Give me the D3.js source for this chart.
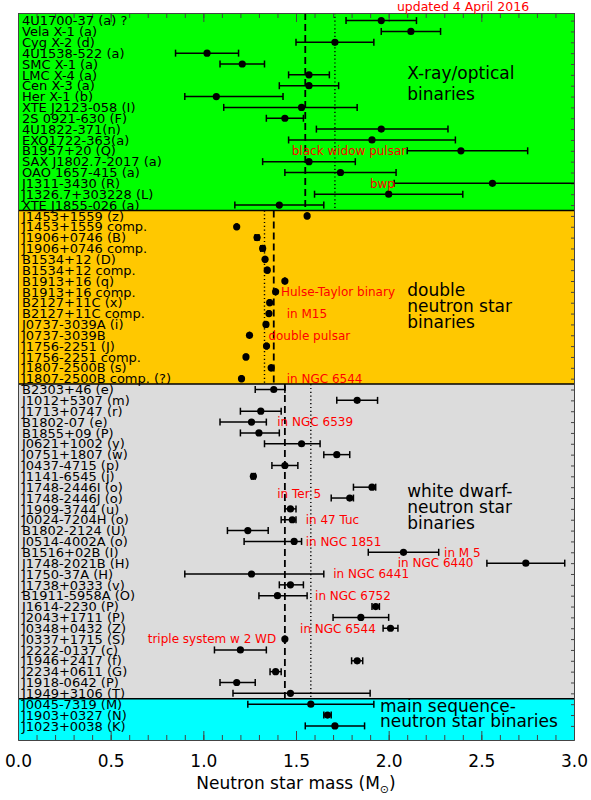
<!DOCTYPE html>
<html>
<head>
<meta charset="utf-8">
<script src="https://cdn.jsdelivr.net/npm/d3@7"></script>
<style>
  body { margin: 0; background: white; }
  text { font-family: "DejaVu Sans", sans-serif; }
</style>
</head>
<body>
<script>
// neutron star masses, one row per system, top to bottom
var names = [
  "4U1700-37 (a) ?", "Vela X-1 (a)", "Cyg X-2 (d)", "4U1538-522 (a)", "SMC X-1 (a)",
  "LMC X-4 (a)", "Cen X-3 (a)", "Her X-1 (b)", "XTE J2123-058 (I)", "2S 0921-630 (F)",
  "4U1822-371(n)", "EXO1722-363(a)", "B1957+20 (Q)", "SAX J1802.7-2017 (a)", "OAO 1657-415 (a)",
  "J1311-3430 (R)", "J1326.7+303228 (L)", "XTE J1855-026 (a)",
  "J1453+1559 (z)", "J1453+1559 comp.", "J1906+0746 (B)", "J1906+0746 comp.", "B1534+12 (D)",
  "B1534+12 comp.", "B1913+16 (q)", "B1913+16 comp.", "B2127+11C (x)", "B2127+11C comp.",
  "J0737-3039A (i)", "J0737-3039B", "J1756-2251 (J)", "J1756-2251 comp.", "J1807-2500B (s)",
  "J1807-2500B comp. (?)",
  "B2303+46 (e)", "J1012+5307 (m)", "J1713+0747 (r)", "B1802-07 (e)", "B1855+09 (P)",
  "J0621+1002 (y)", "J0751+1807 (w)", "J0437-4715 (p)", "J1141-6545 (j)", "J1748-2446I (o)",
  "J1748-2446J (o)", "J1909-3744 (u)", "J0024-7204H (o)", "B1802-2124 (U)", "J0514-4002A (o)",
  "B1516+02B (I)", "J1748-2021B (H)", "J1750-37A (H)", "J1738+0333 (v)", "B1911-5958A (O)",
  "J1614-2230 (P)", "J2043+1711 (P)", "J0348+0432 (Z)", "J0337+1715 (S)", "J2222-0137 (c)",
  "J1946+2417 (f)", "J2234+0611 (G)", "J1918-0642 (P)", "J1949+3106 (T)",
  "J0045-7319 (M)", "J1903+0327 (N)", "J1023+0038 (K)"
];
var mass = [
  1.96, 2.12, 1.71, 1.02, 1.21, 1.57, 1.57, 1.07, 1.53, 1.44,
  1.96, 1.91, 2.39, 1.57, 1.74, 2.56, 2.00, 1.41,
  1.56, 1.18, 1.29, 1.32, 1.333, 1.345, 1.44, 1.39, 1.358, 1.354,
  1.338, 1.249, 1.341, 1.230, 1.366, 1.206,
  1.38, 1.83, 1.31, 1.26, 1.30, 1.53, 1.72, 1.44, 1.27, 1.91,
  1.79, 1.47, 1.48, 1.24, 1.49, 2.08, 2.74, 1.26, 1.47, 1.40,
  1.93, 1.85, 2.01, 1.44, 1.20, 1.83, 1.39, 1.18, 1.47,
  1.58, 1.67, 1.71
];
var errMinus = [
  0.19, 0.16, 0.21, 0.17, 0.12, 0.11, 0.16, 0.17, 0.42, 0.10,
  0.35, 0.45, 0.29, 0.25, 0.30, 0.53, 0.40, 0.24,
  0.003, 0.003, 0.01, 0.01, 0.003, 0.003, 0.001, 0.001, 0.004, 0.004,
  0.001, 0.001, 0.004, 0.004, 0.003, 0.003,
  0.10, 0.11, 0.11, 0.17, 0.10, 0.20, 0.07, 0.07, 0.01, 0.10,
  0.10, 0.03, 0.06, 0.11, 0.27, 0.19, 0.21, 0.36, 0.06, 0.10,
  0.02, 0.15, 0.04, 0.002, 0.14, 0.03, 0.03, 0.09, 0.31,
  0.34, 0.02, 0.16
];
var errPlus = [
  0.19, 0.16, 0.21, 0.17, 0.12, 0.11, 0.16, 0.36, 0.30, 0.10,
  0.36, 0.45, 0.36, 0.25, 0.30, 0.55, 0.40, 0.24,
  0.003, 0.003, 0.01, 0.01, 0.003, 0.003, 0.001, 0.001, 0.004, 0.004,
  0.001, 0.001, 0.004, 0.004, 0.003, 0.003,
  0.06, 0.11, 0.11, 0.08, 0.11, 0.10, 0.07, 0.07, 0.01, 0.02,
  0.02, 0.03, 0.02, 0.11, 0.04, 0.19, 0.21, 0.39, 0.07, 0.16,
  0.02, 0.15, 0.04, 0.002, 0.14, 0.03, 0.03, 0.10, 0.43,
  0.34, 0.02, 0.16
];

// the four classes of binaries
var groupSizes = [18, 16, 29, 3];
var groupColors = ["#00ff00", "#ffc800", "#dcdcdc", "#00ffff"];
var groupDashed = [1.55, 1.38, 1.44, null];   // weighted mean
var groupDotted = [1.71, 1.33, 1.58, null];   // plain mean
var groupTitles = [
  ["X-ray/optical", "binaries"],
  ["double", "neutron star", "binaries"],
  ["white dwarf-", "neutron star", "binaries"],
  ["main sequence-", "neutron star binaries"]
];

// red notes: text, row, mass where text starts
var noteText = ["black widow pulsar", "bwp", "Hulse-Taylor binary", "in M15", "double pulsar",
  "in NGC 6544", "in NGC 6539", "in Ter 5", "in 47 Tuc", "in NGC 1851", "in M 5",
  "in NGC 6440", "in NGC 6441", "in NGC 6752", "in NGC 6544", "triple system w 2 WD"];
var noteRow = [12, 15, 25, 27, 29, 33, 37, 43.6, 46, 48, 49, 50, 51, 53, 56, 57];
var noteMass = [1.477, 1.899, 1.419, 1.45, 1.351, 1.45, 1.399, 1.399, 1.552, 1.552, 2.299,
  2.049, 1.701, 1.603, 1.522, 0.70];

var xTicks = [0, 0.5, 1.0, 1.5, 2.0, 2.5, 3.0];

var width = 591, height = 800;
var nRows = names.length;

var svg = d3.select("body").append("svg")
    .attr("width", width)
    .attr("height", height);

var x = d3.scaleLinear().domain([0, 3]).range([18, 574]);
var y = d3.scaleLinear().domain([-0.7, nRows + 0.3]).range([13, 740]);

// group row ranges
var groups = [];
var start = 0;
groupSizes.forEach(function(n, i) {
  groups.push({
    first: start, last: start + n - 1,
    top: i === 0 ? y.domain()[0] : start - 0.5,
    bottom: i === groupSizes.length - 1 ? y.domain()[1] : start + n - 0.5,
    color: groupColors[i], dashed: groupDashed[i], dotted: groupDotted[i],
    title: groupTitles[i]
  });
  start += n;
});

svg.append("defs").append("clipPath").attr("id", "plotclip")
  .append("rect")
    .attr("x", x(0)).attr("y", y(y.domain()[0]))
    .attr("width", x(3) - x(0))
    .attr("height", y(y.domain()[1]) - y(y.domain()[0]));

// band backgrounds
svg.append("g").selectAll("rect")
  .data(groups)
  .enter().append("rect")
    .attr("x", x(0))
    .attr("width", x(3) - x(0))
    .attr("y", function(d) { return y(d.top); })
    .attr("height", function(d) { return y(d.bottom) - y(d.top); })
    .attr("fill", function(d) { return d.color; });

// mean lines
var meanG = svg.append("g");
meanG.selectAll("line.dashed")
  .data(groups.filter(function(d) { return d.dashed !== null; }))
  .enter().append("line")
    .attr("class", "dashed")
    .attr("x1", function(d) { return x(d.dashed); })
    .attr("x2", function(d) { return x(d.dashed); })
    .attr("y1", function(d) { return y(d.top); })
    .attr("y2", function(d) { return y(d.bottom); })
    .attr("stroke", "black")
    .attr("stroke-width", 1.8)
    .attr("stroke-dasharray", "7,4");
meanG.selectAll("line.dotted")
  .data(groups.filter(function(d) { return d.dotted !== null; }))
  .enter().append("line")
    .attr("class", "dotted")
    .attr("x1", function(d) { return x(d.dotted); })
    .attr("x2", function(d) { return x(d.dotted); })
    .attr("y1", function(d) { return y(d.top); })
    .attr("y2", function(d) { return y(d.bottom); })
    .attr("stroke", "black")
    .attr("stroke-width", 1.4)
    .attr("stroke-dasharray", "1.2,2.6");

// band separators
svg.append("g").selectAll("line")
  .data(groups.slice(1))
  .enter().append("line")
    .attr("x1", x(0)).attr("x2", x(3))
    .attr("y1", function(d) { return y(d.top); })
    .attr("y2", function(d) { return y(d.top); })
    .attr("stroke", "black")
    .attr("stroke-width", 1.5);

// axes
var tickColor = "#444";
var xAxisMajor = svg.append("g")
    .attr("transform", "translate(0," + y(y.domain()[1]) + ")")
    .call(d3.axisBottom(x).tickValues(xTicks).tickFormat(d3.format(".1f"))
          .tickSize(-9).tickSizeOuter(0).tickPadding(15));
svg.append("g")
    .attr("transform", "translate(0," + y(y.domain()[1]) + ")")
    .call(d3.axisBottom(x).ticks(30).tickFormat("").tickSize(-5).tickSizeOuter(0));
svg.append("g")
    .attr("transform", "translate(0," + y(y.domain()[0]) + ")")
    .call(d3.axisTop(x).tickValues(xTicks).tickFormat("").tickSize(-9).tickSizeOuter(0));
svg.append("g")
    .attr("transform", "translate(0," + y(y.domain()[0]) + ")")
    .call(d3.axisTop(x).ticks(30).tickFormat("").tickSize(-5).tickSizeOuter(0));
svg.append("g")
    .attr("transform", "translate(" + x(3) + ",0)")
    .call(d3.axisRight(y).tickValues(d3.range(nRows)).tickFormat("").tickSize(-3).tickSizeOuter(0));
svg.append("g")
    .attr("transform", "translate(" + x(0) + ",0)")
    .call(d3.axisLeft(y).tickValues([]).tickSizeOuter(0));

svg.selectAll(".domain, .tick line").attr("stroke", tickColor);
xAxisMajor.selectAll("text")
    .attr("font-size", 17)
    .attr("font-family", "DejaVu Sans")
    .attr("fill", "black");

svg.append("text")
    .attr("x", (x(0) + x(3)) / 2)
    .attr("y", 789)
    .attr("text-anchor", "middle")
    .attr("font-size", 17)
    .text("Neutron star mass (M")
  .append("tspan")
    .attr("font-size", 11)
    .attr("dy", 4)
    .text("\u2299")
  .select(function() { return this.parentNode; })
  .append("tspan")
    .attr("dy", -4)
    .text(")");

// data: error bars and points
var rows = names.map(function(n, i) {
  return { name: n, row: i, m: mass[i], lo: mass[i] - errMinus[i], hi: mass[i] + errPlus[i] };
});

var dataG = svg.append("g").attr("clip-path", "url(#plotclip)");
var bars = dataG.selectAll("g.bar")
  .data(rows)
  .enter().append("g")
    .attr("class", "bar")
    .attr("stroke", "black")
    .attr("stroke-width", 1.5);
bars.append("line")
    .attr("x1", function(d) { return x(d.lo); })
    .attr("x2", function(d) { return x(d.hi); })
    .attr("y1", function(d) { return y(d.row); })
    .attr("y2", function(d) { return y(d.row); });
bars.append("line")
    .attr("x1", function(d) { return x(d.lo); })
    .attr("x2", function(d) { return x(d.lo); })
    .attr("y1", function(d) { return y(d.row) - 3.5; })
    .attr("y2", function(d) { return y(d.row) + 3.5; });
bars.append("line")
    .attr("x1", function(d) { return x(d.hi); })
    .attr("x2", function(d) { return x(d.hi); })
    .attr("y1", function(d) { return y(d.row) - 3.5; })
    .attr("y2", function(d) { return y(d.row) + 3.5; });
dataG.selectAll("circle")
  .data(rows)
  .enter().append("circle")
    .attr("cx", function(d) { return x(d.m); })
    .attr("cy", function(d) { return y(d.row); })
    .attr("r", 3.6)
    .attr("fill", "black");

// row labels
svg.append("g").selectAll("text")
  .data(rows)
  .enter().append("text")
    .attr("x", 22)
    .attr("y", function(d) { return y(d.row); })
    .attr("dy", "0.36em")
    .attr("font-size", 13)
    .attr("fill", "black")
    .text(function(d) { return d.name; });

// red notes
svg.append("g").selectAll("text")
  .data(noteText)
  .enter().append("text")
    .attr("x", function(d, i) { return x(noteMass[i]); })
    .attr("y", function(d, i) { return y(noteRow[i]); })
    .attr("dy", "0.36em")
    .attr("font-size", 12)
    .attr("fill", "red")
    .text(function(d) { return d; });

svg.append("text")
    .attr("x", 463)
    .attr("y", 11)
    .attr("text-anchor", "middle")
    .attr("font-size", 12.5)
    .attr("fill", "red")
    .text("updated 4 April 2016");

// class titles
var titlePos = [
  { m: 2.10, row: 5.37, step: 20.7 },
  { m: 2.10, row: 25.37, step: 16.3 },
  { m: 2.10, row: 43.9, step: 15.8 },
  { m: 1.953, row: 63.69, step: 15 }
];
groups.forEach(function(g, i) {
  var t = svg.append("text")
      .attr("x", x(titlePos[i].m))
      .attr("y", y(titlePos[i].row))
      .attr("font-size", 17)
      .attr("fill", "black");
  g.title.forEach(function(line, j) {
    t.append("tspan")
      .attr("x", x(titlePos[i].m))
      .attr("dy", j === 0 ? 0 : titlePos[i].step)
      .text(line);
  });
});
</script>
</body>
</html>
